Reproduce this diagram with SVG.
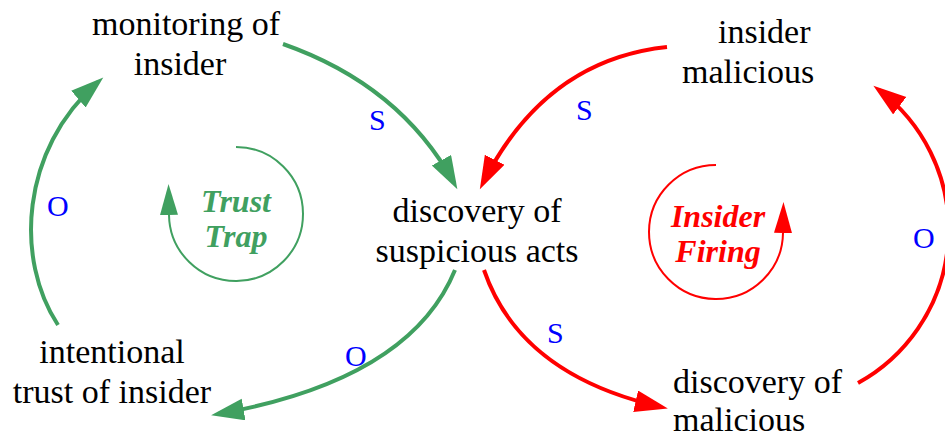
<svg xmlns="http://www.w3.org/2000/svg" width="945" height="438" viewBox="0 0 945 438" font-family="'Liberation Serif', 'Times New Roman', Times, 'DejaVu Serif', serif">
<style>
text{font-family:'Liberation Serif','Times New Roman',Times,'DejaVu Serif',serif}
.node{font-size:34px;fill:#000}
.lbl{font-size:30px;fill:#0000ff}
.loop{font-size:32px;font-weight:bold;font-style:italic;text-anchor:middle}
.g{stroke:#40a060;fill:none}
.r{stroke:#ff0000;fill:none}
.big{stroke-width:4}
.thin{stroke-width:2}
</style>
<defs>
<marker id="ag" markerUnits="userSpaceOnUse" markerWidth="34" markerHeight="24" refX="26" refY="11" orient="auto" viewBox="0 0 34 24"><path d="M0,0 L33,11 L0,22 z" fill="#40a060"/></marker>
<marker id="ar" markerUnits="userSpaceOnUse" markerWidth="34" markerHeight="24" refX="26" refY="11" orient="auto" viewBox="0 0 34 24"><path d="M0,0 L33,11 L0,22 z" fill="#ff0000"/></marker>
<marker id="sg" markerUnits="userSpaceOnUse" markerWidth="32" markerHeight="20" refX="0" refY="9" orient="auto" viewBox="0 0 32 20"><path d="M0,0 L31,9 L0,18 z" fill="#40a060"/></marker>
<marker id="sr" markerUnits="userSpaceOnUse" markerWidth="32" markerHeight="20" refX="0" refY="9" orient="auto" viewBox="0 0 32 20"><path d="M0,0 L31,9 L0,18 z" fill="#ff0000"/></marker>
</defs>
<g id="connectors">
<path class="g big" d="M283,44 Q400,85 454,183" marker-end="url(#ag)"/>
<path class="g big" d="M455,270 Q410,380 218,414" marker-end="url(#ag)"/>
<path class="g big" d="M58,325 C15,260 20,150 98,82" marker-end="url(#ag)"/>
<path class="r big" d="M667,47 Q545,60 483,183" marker-end="url(#ar)"/>
<path class="r big" d="M484,270 Q520,375 661,407" marker-end="url(#ar)"/>
<path class="r big" d="M858,383 A175,175 0 0 0 879,90" marker-end="url(#ar)"/>
</g>
<g id="loop-trust-trap">
<path class="g thin" d="M236,147 A67,67 0 1 1 169,215" marker-end="url(#sg)"/>
<text class="loop" fill="#40a060"><tspan x="236" y="212">Trust</tspan><tspan x="236" y="247">Trap</tspan></text>
</g>
<g id="loop-insider-firing">
<path class="r thin" d="M716,165 A67,67 0 1 0 783,233" marker-end="url(#sr)"/>
<text class="loop" fill="#ff0000"><tspan x="718" y="227">Insider</tspan><tspan x="718" y="262">Firing</tspan></text>
</g>
<g id="node-monitoring">
<text class="node" text-anchor="middle"><tspan x="186" y="35">monitoring of</tspan><tspan x="180" y="75">insider</tspan></text>
</g>
<g id="node-discovery-suspicious">
<text class="node" text-anchor="middle"><tspan x="477" y="222">discovery of</tspan><tspan x="477" y="262">suspicious acts</tspan></text>
</g>
<g id="node-intentional-trust">
<text class="node" text-anchor="middle"><tspan x="112" y="363">intentional</tspan><tspan x="112" y="403">trust of insider</tspan></text>
</g>
<g id="node-insider-malicious">
<text class="node"><tspan x="718" y="43">insider</tspan><tspan x="682" y="83">malicious</tspan></text>
</g>
<g id="node-discovery-malicious">
<text class="node"><tspan x="673" y="393">discovery of</tspan><tspan x="673" y="431">malicious</tspan></text>
</g>
<g id="labels">
<text class="lbl" x="369" y="130">S</text>
<text class="lbl" x="576" y="120">S</text>
<text class="lbl" x="547" y="343">S</text>
<text class="lbl" x="47" y="216">O</text>
<text class="lbl" x="913" y="248">O</text>
<text class="lbl" x="345" y="366">O</text>
</g>
</svg>
